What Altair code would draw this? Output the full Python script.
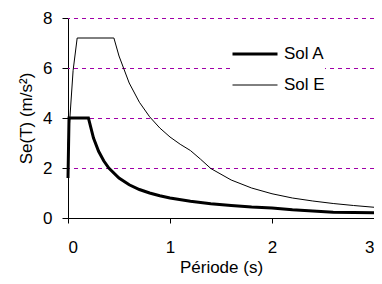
import altair as alt
import pandas as pd

# Sol A (T in s, Se in m/s²)
t_a = [0.0, 0.01, 0.2, 0.25, 0.3, 0.35, 0.4, 0.5, 0.6, 0.7, 0.8, 0.9, 1.0,
       1.2, 1.4, 1.6, 1.8, 2.0, 2.2, 2.4, 2.6, 3.0]
se_a = [1.6, 4.0, 4.0, 3.2, 2.67, 2.29, 2.0, 1.6, 1.33, 1.14, 1.0, 0.89, 0.8,
        0.67, 0.57, 0.5, 0.44, 0.4, 0.33, 0.28, 0.23, 0.21]

# Sol E
t_e = [0.0, 0.05, 0.09, 0.45, 0.5, 0.6, 0.7, 0.8, 0.9, 1.0, 1.1, 1.2, 1.3,
       1.4, 1.6, 1.8, 2.0, 2.2, 2.4, 2.6, 2.8, 3.0]
se_e = [2.9, 5.9, 7.2, 7.2, 6.48, 5.4, 4.63, 4.05, 3.6, 3.24, 2.95, 2.7, 2.35,
        1.98, 1.52, 1.2, 0.97, 0.8, 0.68, 0.58, 0.5, 0.43]

series = ["Sol A", "Sol E"]
grid_levels = [2, 4, 6, 8]

df = pd.concat([
    pd.DataFrame({"T": t_a, "Se": se_a, "sol": series[0], "ord": range(len(t_a))}),
    pd.DataFrame({"T": t_e, "Se": se_e, "sol": series[1], "ord": range(len(t_e))}),
])
grid_df = pd.DataFrame({"g": grid_levels})

FONT = "Liberation Sans"
FS = 17

xscale = alt.Scale(domain=[0, 3], nice=False)
yscale = alt.Scale(domain=[0, 8], nice=False)

grid = alt.Chart(grid_df).mark_rule(color="#a000a8", strokeDash=[4, 4], strokeWidth=1,
                                    yOffset=0.5).encode(
    y=alt.Y("g:Q", scale=yscale)
)

lines = alt.Chart(df).mark_line(color="black", strokeJoin="miter").encode(
    x=alt.X("T:Q", scale=xscale, title="Période (s)",
            axis=alt.Axis(values=[0, 1, 2, 3], format="d", tickSize=5,
                          labelPadding=16, titlePadding=4, grid=False)),
    y=alt.Y("Se:Q", scale=yscale, title="Se(T)  (m/s²)",
            axis=alt.Axis(values=[0, 2, 4, 6, 8], tickSize=6, labelPadding=10,
                          titlePadding=7, grid=False)),
    order="ord:Q",
    detail="sol:N",
    strokeWidth=alt.StrokeWidth(
        "sol:N",
        scale=alt.Scale(domain=series, range=[3, 1]),
        legend=alt.Legend(
            title=None, orient="none", legendX=163, legendY=12,
            symbolType="stroke", symbolSize=2025, symbolStrokeColor="black",
            labelFont=FONT, labelFontSize=FS, labelColor="black",
            labelOffset=5, rowPadding=-13, fillColor="white", padding=0,
        ),
    ),
)

chart = alt.layer(grid, lines).properties(
    width=306, height=200,
    autosize=alt.AutoSizeParams(type="none"),
    padding={"left": 60, "top": 10, "right": 0, "bottom": 58},
).configure_axis(
    domainColor="black", tickColor="black", labelColor="black", titleColor="black",
    labelFont=FONT, titleFont=FONT, labelFontSize=FS, titleFontSize=FS,
    titleFontWeight="normal", domainWidth=1, tickWidth=1,
).configure_view(stroke=None)

chart.save("out.html", embed_options={"renderer": "svg", "actions": False})
